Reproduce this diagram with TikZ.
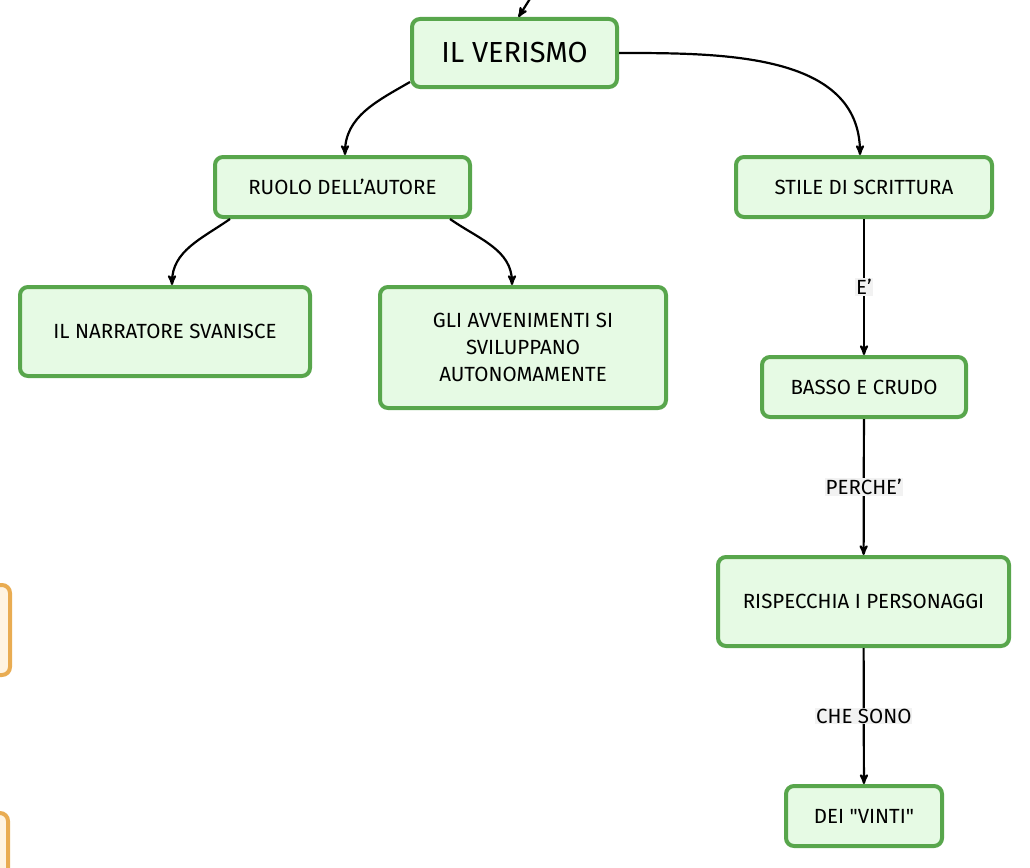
\documentclass[tikz,border=0pt]{standalone}
\usepackage{fontspec}
\setmainfont{Fira Sans}
\usetikzlibrary{arrows}

\definecolor{boxline}{HTML}{58A64C}
\definecolor{boxfill}{HTML}{E6FAE4}
\definecolor{sideline}{HTML}{E9AC52}
\definecolor{sidefill}{HTML}{FFF4E2}

\begin{document}
\begin{tikzpicture}[x=1pt, y=-1pt,
    box/.style={draw=boxline, line width=4pt, fill=boxfill, rounded corners=8pt,
      align=center, font=\fontsize{20.5}{27}\selectfont},
    side/.style={draw=sideline, line width=4pt, fill=sidefill, rounded corners=8pt},
    lbl/.style={fill=gray!10, inner sep=1pt, font=\fontsize{20.5}{22}\selectfont},
    link/.style={->, >=stealth', line width=2.2pt}]
      \useasboundingbox (0,0) rectangle (1030,867);

      % left, cut off
      \draw[side] (-80,585) rectangle (10,675);
      \draw[side] (-80,813) rectangle (8,920);

      \node[box, minimum width=205pt, minimum height=68pt, font=\fontsize{29}{30}\selectfont] (verismo) at (514.5,53) {IL VERISMO};
      \node[box, minimum width=255pt, minimum height=60pt] (ruolo) at (342.5,187) {RUOLO DELL'AUTORE};
      \node[box, minimum width=256pt, minimum height=60pt] (stile) at (864,187) {STILE DI SCRITTURA};
      \node[box, minimum width=290pt, minimum height=89pt] (narr) at (165,331.5) {IL NARRATORE SVANISCE};
      \node[box, minimum width=286pt, minimum height=121pt] (gli) at (523,347.5) {GLI AVVENIMENTI SI\\SVILUPPANO\\AUTONOMAMENTE};
      \node[box, minimum width=204pt, minimum height=60pt] (basso) at (864,387) {BASSO E CRUDO};
      \node[box, minimum width=291pt, minimum height=89pt] (risp) at (863.5,601.5) {RISPECCHIA I PERSONAGGI};
      \node[box, minimum width=156pt, minimum height=60pt] (vinti) at (864,816) {DEI \textquotedbl VINTI\textquotedbl};

      \coordinate (top) at (533,-6);
      \draw[link] (top) -- ([xshift=4pt]verismo.north);

      \draw[link] ([yshift=7pt]verismo.south west) to[out=210, in=90] ([xshift=2.5pt]ruolo.north);
      \draw[link] (verismo.east) to[out=0, in=90] ([xshift=-4pt]stile.north);
      \draw[link] ([xshift=17pt]ruolo.south west) to[out=215, in=90] ([xshift=7pt]narr.north);
      \draw[link] ([xshift=-22pt]ruolo.south east) to[out=-35, in=90] ([xshift=-11pt]gli.north);

      \draw[link] (stile) -- node[lbl] {E'} (basso);
      \draw[link] (basso) -- node[lbl] {PERCHE'} (risp);
      \draw[link] (risp) -- node[lbl] {CHE SONO} (vinti);
    \end{tikzpicture}
\end{document}
